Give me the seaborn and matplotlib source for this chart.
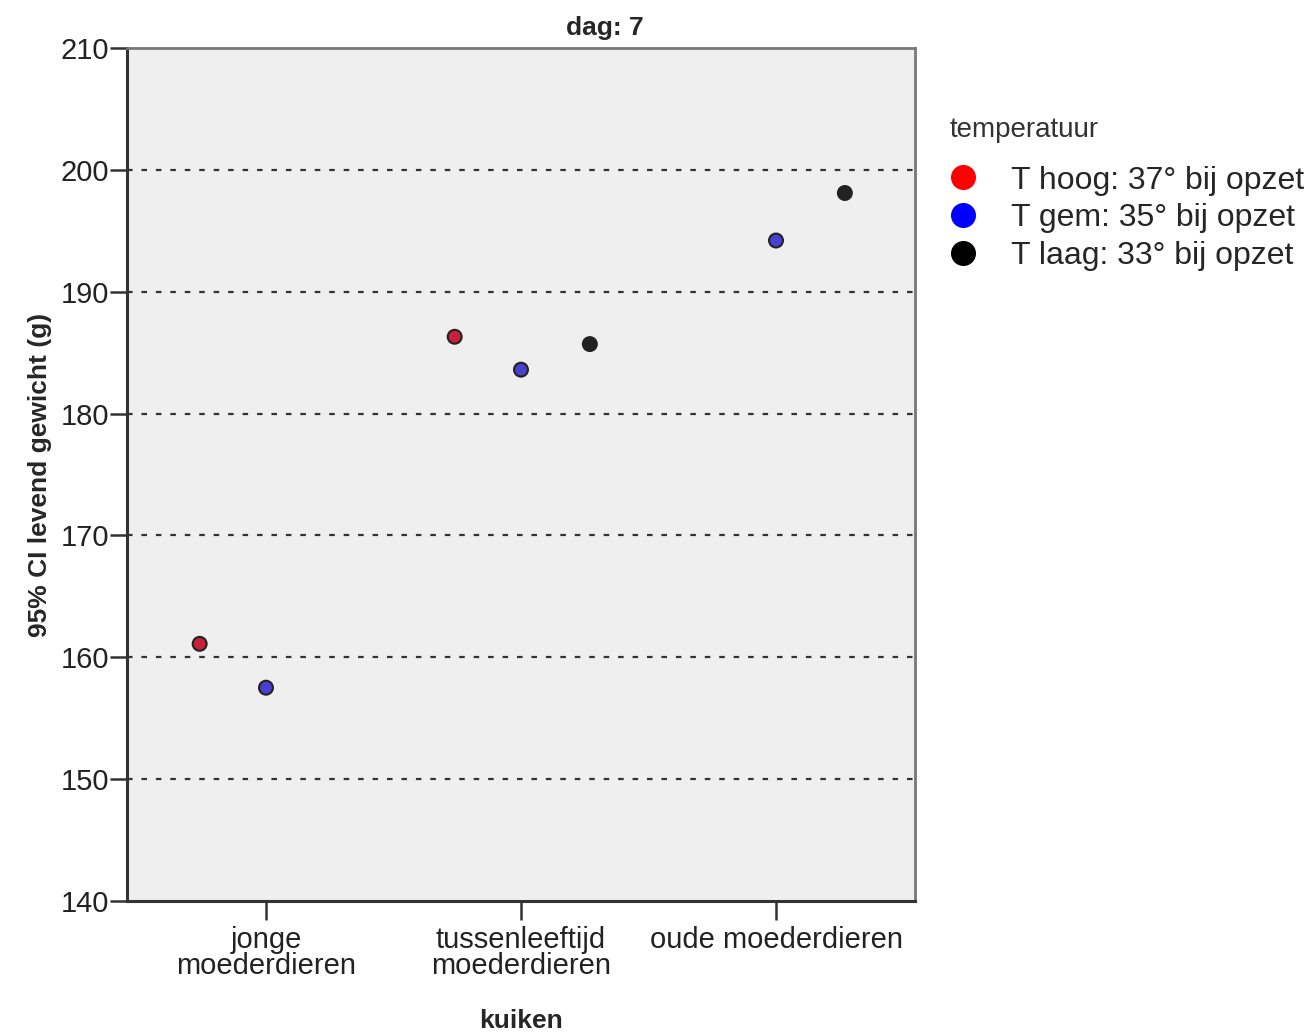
import numpy as np
import pandas as pd
import matplotlib
matplotlib.use("Agg")
import matplotlib.pyplot as plt
from matplotlib.lines import Line2D
import seaborn as sns

# ---- data ----
categories = ["jonge\nmoederdieren", "tussenleeftijd\nmoederdieren", "oude moederdieren"]
temps = ["T hoog: 37° bij opzet", "T gem: 35° bij opzet", "T laag: 33° bij opzet"]
kuiken = [categories[0], categories[0],
          categories[1], categories[1], categories[1],
          categories[2], categories[2]]
temperatuur = [temps[0], temps[1],
               temps[0], temps[1], temps[2],
               temps[1], temps[2]]
gewicht = [161.1, 157.5,
           186.3, 183.6, 185.7,
           194.2, 198.1]
yticks = [140, 150, 160, 170, 180, 190, 200, 210]

colors = {temps[0]: "#ff0000", temps[1]: "#0000ff", temps[2]: "#000000"}
fill = {temps[0]: "#c8203c", temps[1]: "#4a3fd0", temps[2]: "#222222"}
dodge = {temps[0]: -0.26, temps[1]: 0.0, temps[2]: 0.27}

df = pd.DataFrame({"kuiken": kuiken, "temperatuur": temperatuur, "gewicht": gewicht})
df["xpos"] = df["kuiken"].map({c: i for i, c in enumerate(categories)}) + df["temperatuur"].map(dodge)

sns.set_theme(style="white")
plt.rcParams["font.family"] = ["Liberation Sans", "DejaVu Sans"]

fig = plt.figure(figsize=(13.09, 10.32), dpi=100)
ax = fig.add_axes([0.097, 0.127, 0.602, 0.8265])
ax.set_facecolor("#efefef")

sns.scatterplot(data=df, x="xpos", y="gewicht", hue="temperatuur", hue_order=temps,
                palette=fill, s=100, edgecolor="#222222", linewidth=1.5,
                legend=False, ax=ax, zorder=3)

ax.set_xlim(-0.545, 2.545)
ax.set_ylim(140, 210)
ax.set_yticks(yticks)
ax.set_yticklabels([str(v) for v in yticks], fontsize=21, color="#222222")
ax.set_xticks(range(len(categories)))
ax.set_xticklabels(categories, fontsize=21, color="#222222", linespacing=0.9)

for v in yticks[1:-1]:
    ax.axhline(v, color="#333333", lw=1.6, ls=(0, (2.5, 4)), zorder=1)

for side in ["left", "bottom"]:
    ax.spines[side].set_color("#333333")
    ax.spines[side].set_linewidth(2.2)
for side in ["top", "right"]:
    ax.spines[side].set_color("#777777")
    ax.spines[side].set_linewidth(2)
    ax.spines[side].set_visible(True)

ax.tick_params(axis="y", direction="out", length=12, width=1.8, color="#333333", pad=1, left=True)
ax.tick_params(axis="x", direction="out", length=14, width=1.8, color="#333333", pad=4, bottom=True)

ax.set_ylabel("95% CI levend gewicht (g)", fontsize=19, fontweight="bold", labelpad=6)
ax.set_xlabel("kuiken", fontsize=19, fontweight="bold", labelpad=21)
ax.set_title("dag: 7", fontsize=19, fontweight="bold", pad=9, x=0.607)

handles = [Line2D([0], [0], marker="o", ls="none", markersize=17,
                  markerfacecolor=colors[t], markeredgecolor=colors[t]) for t in temps]
leg = fig.legend(handles, temps, loc="upper left", bbox_to_anchor=(0.711, 0.852),
                 frameon=False, fontsize=23,
                 handletextpad=0.9, labelspacing=0.25, borderaxespad=0, handlelength=1.2)
fig.text(950 / 1309, 1 - 130 / 1032, "temperatuur", fontsize=20, color="#333333",
         ha="left", va="center")

fig.savefig("out.png", dpi=100, facecolor="white")
